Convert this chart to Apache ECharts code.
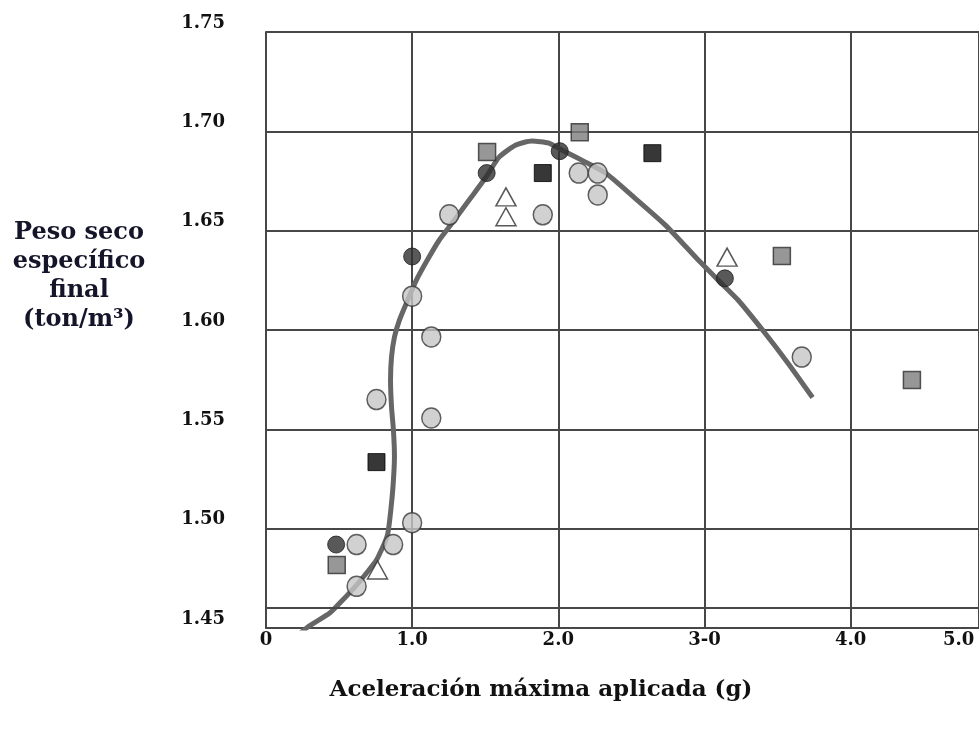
<!DOCTYPE html>
<html>
<head>
<meta charset="utf-8">
<script src="https://cdn.jsdelivr.net/npm/echarts@6/dist/echarts.min.js"></script>
<style>html,body{margin:0;padding:0;background:#fff;}#c{width:979px;height:733px;}</style>
</head>
<body>
<div id="c"></div>
<script>
// ---- data ----
const xTickValues = [0, 1, 2, 3, 4, 4.74];
const xTickLabels = ['0', '1.0', '2.0', '3-0', '4.0', '5.0'];
const yTickLabels = ['1.45', '1.50', '1.55', '1.60', '1.65', '1.70', '1.75'];

const curveX = [0.204, 0.286, 0.436, 0.525, 0.620, 0.688, 0.756, 0.831, 0.859, 0.872, 0.879, 0.872, 0.859, 0.852, 0.859, 0.879, 0.913, 0.961, 1.029, 1.104, 1.186, 1.274, 1.390, 1.506, 1.595, 1.710, 1.819, 1.935, 2.024, 2.187, 2.324, 2.501, 2.733, 2.958, 3.094, 3.230, 3.414, 3.571, 3.740];
const curveY = [1.4455, 1.4505, 1.4575, 1.4641, 1.4716, 1.4777, 1.4842, 1.4968, 1.5129, 1.5245, 1.5361, 1.5496, 1.5612, 1.5748, 1.5864, 1.5965, 1.6050, 1.6136, 1.6251, 1.6352, 1.6453, 1.6538, 1.6654, 1.6770, 1.6870, 1.6931, 1.6951, 1.6941, 1.6906, 1.6845, 1.6790, 1.6679, 1.6528, 1.6352, 1.6251, 1.6151, 1.5985, 1.5834, 1.5660];

const darkCircles = [[0.48, 1.492], [1.0, 1.637], [1.51, 1.679], [2.01, 1.690], [3.14, 1.626]];
const lightCircles = [[0.62, 1.492], [0.62, 1.471], [0.87, 1.492], [1.0, 1.503], [0.756, 1.565], [1.0, 1.617], [1.131, 1.5965], [1.131, 1.5557], [1.254, 1.658], [1.894, 1.658], [2.14, 1.679], [2.27, 1.679], [2.27, 1.668], [3.666, 1.5864]];
const greySquares = [[0.484, 1.4817], [1.513, 1.6896], [2.147, 1.6996], [3.53, 1.6372], [4.42, 1.5748]];
const blackSquares = [[0.756, 1.5335], [1.894, 1.679], [2.644, 1.689]];
const triangles = [[0.763, 1.4792], [1.642, 1.667], [1.642, 1.657], [3.155, 1.6367]];
const innerLineY = 1.4555;

const yTitle = 'Peso seco\nespecífico\nfinal\n(ton/m³)';
const xTitle = 'Aceleración máxima aplicada (g)';

// ---- chart ----
const chart = echarts.init(document.getElementById('c'), null, {renderer: 'canvas'});
const gridColor = '#474747';
const tickFont = {fontFamily: 'DejaVu Serif', fontWeight: 'bold', fontSize: 18, color: '#111'};

const option = {
  backgroundColor: '#fff',
  animation: false,
  grid: {left: 266, right: -3, top: 32, bottom: 105, containLabel: false},
  xAxis: {
    type: 'value', min: 0, max: 4.879, interval: 1,
    axisLine: {show: true, lineStyle: {color: gridColor, width: 2}},
    axisTick: {show: false},
    splitLine: {show: true, lineStyle: {color: gridColor, width: 2}},
    axisLabel: Object.assign({}, tickFont, {
      margin: 3,
      customValues: xTickValues,
      showMinLabel: true, showMaxLabel: true,
      formatter: function (v) {
        const i = xTickValues.findIndex(t => Math.abs(t - v) < 1e-6);
        return i >= 0 ? xTickLabels[i] : '';
      }
    })
  },
  yAxis: {
    type: 'value', min: 1.45, max: 1.75, interval: 0.05,
    axisLine: {show: true, lineStyle: {color: gridColor, width: 2}},
    axisTick: {show: false},
    splitLine: {show: true, lineStyle: {color: gridColor, width: 2}},
    axisLabel: Object.assign({}, tickFont, {
      margin: 41,
      verticalAlign: 'bottom',
      formatter: function (v) {
        const i = Math.round((v - 1.45) / 0.05);
        return yTickLabels[i] !== undefined ? yTickLabels[i] : '';
      }
    })
  },
  graphic: [
    {type: 'text', x: 79, y: 218, style: {text: yTitle, fill: '#15152a', font: 'bold 24px "DejaVu Serif"', textAlign: 'center', textVerticalAlign: 'top', lineHeight: 29}},
    {type: 'text', x: 541, y: 690, style: {text: xTitle, fill: '#111', font: 'bold 23px "DejaVu Serif"', textAlign: 'center', textVerticalAlign: 'middle'}}
  ],
  series: [
    {
      type: 'line', name: 'curva', smooth: 0.2, showSymbol: false, symbol: 'none', clip: true,
      data: curveX.map((x, i) => [x, curveY[i]]),
      lineStyle: {color: '#666666', width: 5},
      z: 2,
      markLine: {
        silent: true, symbol: 'none', label: {show: false},
        lineStyle: {color: gridColor, width: 2, type: 'solid'},
        data: [{yAxis: innerLineY}]
      }
    },
    {type: 'scatter', name: 'c1', symbol: 'circle', symbolSize: [19, 20], data: lightCircles,
      itemStyle: {color: '#c6c6c6', borderColor: '#3a3a3a', borderWidth: 1.5}, z: 3},
    {type: 'scatter', name: 'c2', symbol: 'circle', symbolSize: 17, data: darkCircles,
      itemStyle: {color: '#2f2f2f', borderColor: '#1e1e1e', borderWidth: 1}, z: 3},
    {type: 'scatter', name: 's1', symbol: 'rect', symbolSize: 17, data: greySquares,
      itemStyle: {color: '#7d7d7d', borderColor: '#2e2e2e', borderWidth: 1.5}, z: 3},
    {type: 'scatter', name: 's2', symbol: 'rect', symbolSize: 17, data: blackSquares,
      itemStyle: {color: '#050505', borderColor: '#000', borderWidth: 1}, z: 3},
    {type: 'scatter', name: 't', symbol: 'triangle', symbolSize: [20, 18], data: triangles,
      itemStyle: {color: '#fff', borderColor: '#2e2e2e', borderWidth: 1.5}, z: 3}
  ]
};
chart.setOption(option);
</script>
</body>
</html>
